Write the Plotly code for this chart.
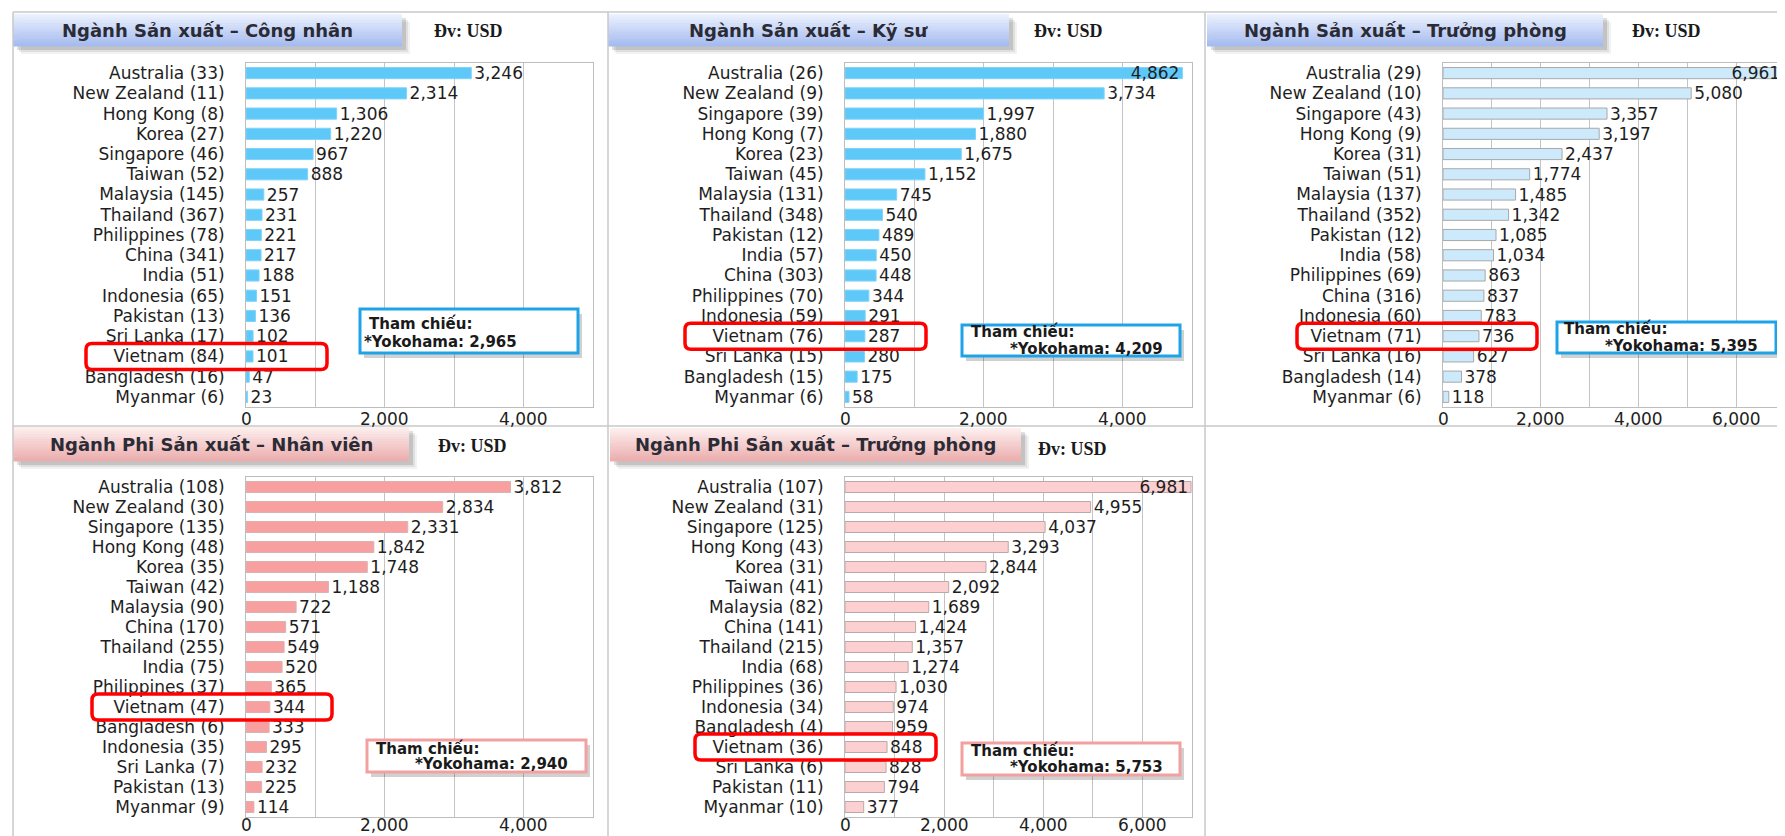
import plotly.graph_objects as go

VIEW_W, VIEW_H = 1785, 836
OFF = 8  # default page margin around the plot div
W, H = VIEW_W - OFF, VIEW_H - OFF

# ---------------- data ----------------
p1_title = "Ngành Sản xuất – Công nhân"
p1_cats = ["Australia (33)", "New Zealand (11)", "Hong Kong (8)", "Korea (27)", "Singapore (46)",
           "Taiwan (52)", "Malaysia (145)", "Thailand (367)", "Philippines (78)", "China (341)",
           "India (51)", "Indonesia (65)", "Pakistan (13)", "Sri Lanka (17)", "Vietnam (84)",
           "Bangladesh (16)", "Myanmar (6)"]
p1_vals = [3246, 2314, 1306, 1220, 967, 888, 257, 231, 221, 217, 188, 151, 136, 102, 101, 47, 23]
p1_ref = "*Yokohama: 2,965"

p2_title = "Ngành Sản xuất – Kỹ sư"
p2_cats = ["Australia (26)", "New Zealand (9)", "Singapore (39)", "Hong Kong (7)", "Korea (23)",
           "Taiwan (45)", "Malaysia (131)", "Thailand (348)", "Pakistan (12)", "India (57)",
           "China (303)", "Philippines (70)", "Indonesia (59)", "Vietnam (76)", "Sri Lanka (15)",
           "Bangladesh (15)", "Myanmar (6)"]
p2_vals = [4862, 3734, 1997, 1880, 1675, 1152, 745, 540, 489, 450, 448, 344, 291, 287, 280, 175, 58]
p2_ref = "*Yokohama: 4,209"

p3_title = "Ngành Sản xuất – Trưởng phòng"
p3_cats = ["Australia (29)", "New Zealand (10)", "Singapore (43)", "Hong Kong (9)", "Korea (31)",
           "Taiwan (51)", "Malaysia (137)", "Thailand (352)", "Pakistan (12)", "India (58)",
           "Philippines (69)", "China (316)", "Indonesia (60)", "Vietnam (71)", "Sri Lanka (16)",
           "Bangladesh (14)", "Myanmar (6)"]
p3_vals = [6961, 5080, 3357, 3197, 2437, 1774, 1485, 1342, 1085, 1034, 863, 837, 783, 736, 627, 378, 118]
p3_ref = "*Yokohama: 5,395"

p4_title = "Ngành Phi Sản xuất – Nhân viên"
p4_cats = ["Australia (108)", "New Zealand (30)", "Singapore (135)", "Hong Kong (48)", "Korea (35)",
           "Taiwan (42)", "Malaysia (90)", "China (170)", "Thailand (255)", "India (75)",
           "Philippines (37)", "Vietnam (47)", "Bangladesh (6)", "Indonesia (35)", "Sri Lanka (7)",
           "Pakistan (13)", "Myanmar (9)"]
p4_vals = [3812, 2834, 2331, 1842, 1748, 1188, 722, 571, 549, 520, 365, 344, 333, 295, 232, 225, 114]
p4_ref = "*Yokohama: 2,940"

p5_title = "Ngành Phi Sản xuất – Trưởng phòng"
p5_cats = ["Australia (107)", "New Zealand (31)", "Singapore (125)", "Hong Kong (43)", "Korea (31)",
           "Taiwan (41)", "Malaysia (82)", "China (141)", "Thailand (215)", "India (68)",
           "Philippines (36)", "Indonesia (34)", "Bangladesh (4)", "Vietnam (36)", "Sri Lanka (6)",
           "Pakistan (11)", "Myanmar (10)"]
p5_vals = [6981, 4955, 4037, 3293, 2844, 2092, 1689, 1424, 1357, 1274, 1030, 974, 959, 848, 828, 794, 377]
p5_ref = "*Yokohama: 5,753"

ticks_5k = [0, 2000, 4000]
ticks_7k = [0, 2000, 4000, 6000]

unit_label = "Đv: USD"
ref_heading = "Tham chiếu:"
highlight = "Vietnam"

# ---------------- styling / layout (page pixels) ----------------
BLUE_THEME = dict(g_top="#eaf0fd", g_bot="#a6bcf0", callout="#1ea3e8")
PINK_THEME = dict(g_top="#fdeeee", g_bot="#ecaeae", callout="#f3a0a0")

styles = [
    dict(plot=(246, 593, 63, 407), xmax=5000, ticks=ticks_5k, bar="#5ec8f8", barline="#7fd3f8",
         tbox=(13, 402, 14, 46), unit=(432, 31), callout=(360, 578, 309, 353), c_t1=(367, 324),
         c_t2=(362, 342, "left"), red=(86, 327), theme=BLUE_THEME),
    dict(plot=(845, 1192, 63, 407), xmax=5000, ticks=ticks_5k, bar="#5ec8f8", barline="#7fd3f8",
         tbox=(608, 1009, 14, 46), unit=(1032, 31), callout=(962, 1180, 325, 356), c_t1=(969, 332),
         c_t2=(1165, 349, "right"), red=(685, 926), theme=BLUE_THEME),
    dict(plot=(1443, 1785, 63, 407), xmax=7000, ticks=ticks_7k, bar="#cdeafc",
         barline="#a8a8a8", tbox=(1207, 1603, 14, 46), unit=(1630, 31), callout=(1557, 1776, 322, 353),
         c_t1=(1562, 329), c_t2=(1760, 346, "right"), red=(1297, 1537), theme=BLUE_THEME),
    dict(plot=(246, 593, 477, 817), xmax=5000, ticks=ticks_5k, bar="#f8a0a0", barline="#d9b3b3",
         tbox=(13, 409, 427, 461), unit=(436, 446), callout=(367, 586, 740, 772), c_t1=(374, 748),
         c_t2=(570, 764, "right"), red=(92, 332), theme=PINK_THEME),
    dict(plot=(845, 1192, 477, 817), xmax=7000, ticks=ticks_7k, bar="#fcd0d0", barline="#b9a9a9",
         tbox=(610, 1021, 428, 461), unit=(1036, 449), callout=(962, 1180, 743, 775), c_t1=(969, 750),
         c_t2=(1165, 767, "right"), red=(695, 936), theme=PINK_THEME),
]

panels = [
    (p1_title, p1_cats, p1_vals, p1_ref),
    (p2_title, p2_cats, p2_vals, p2_ref),
    (p3_title, p3_cats, p3_vals, p3_ref),
    (p4_title, p4_cats, p4_vals, p4_ref),
    (p5_title, p5_cats, p5_vals, p5_ref),
]

FONT = "DejaVu Sans"
TXT = "#1e1e1e"
FS = 17


def PX(x):
    return min(max((x - OFF) / W, 0), 1)


def PY(y):
    return min(max(1 - (y - OFF) / H, 0), 1)


def lerp_hex(c1, c2, t):
    a = [int(c1[i:i + 2], 16) for i in (1, 3, 5)]
    b = [int(c2[i:i + 2], 16) for i in (1, 3, 5)]
    return "#" + "".join(f"{round(a[k] + (b[k] - a[k]) * t):02x}" for k in range(3))


fig = go.Figure()
shapes = []
annotations = []
layout_axes = {}

for i, ((title, cats, vals, ref), st) in enumerate(zip(panels, styles)):
    n = i + 1
    xa = "x" if n == 1 else f"x{n}"
    ya = "y" if n == 1 else f"y{n}"
    x0, x1, y0, y1 = st["plot"]
    xmax = st["xmax"]
    positions = ["inside" if v > 0.9 * xmax else "outside" for v in vals]
    fig.add_trace(go.Bar(
        x=vals, y=cats, orientation="h", xaxis=xa, yaxis=ya,
        marker=dict(color=st["bar"], line=dict(color=st["barline"], width=1)),
        texttemplate="%{x:,}", textposition=positions, insidetextanchor="end",
        textfont=dict(family=FONT, size=FS, color=TXT),
        insidetextfont=dict(family=FONT, size=FS, color=TXT),
        outsidetextfont=dict(family=FONT, size=FS, color=TXT),
        constraintext="none", cliponaxis=False, showlegend=False, hoverinfo="x+y",
    ))
    xkey = "xaxis" if n == 1 else f"xaxis{n}"
    ykey = "yaxis" if n == 1 else f"yaxis{n}"
    layout_axes[xkey] = dict(
        domain=[PX(x0), PX(x1)], anchor=ya, range=[0, xmax],
        tickvals=st["ticks"], showticklabels=False, showgrid=True, gridcolor="#c4c4c4", gridwidth=1,
        minor=dict(dtick=1000, tick0=0, showgrid=True, gridcolor="#c4c4c4", gridwidth=1),
        showline=True, linecolor="#bdbdbd", linewidth=1, mirror=True, zeroline=False,
        ticks="", fixedrange=True,
    )
    layout_axes[ykey] = dict(
        domain=[PY(y1), PY(y0)], anchor=xa, type="category", autorange="reversed",
        tickmode="array", tickvals=cats, ticktext=cats,
        showline=True, linecolor="#bdbdbd", linewidth=1, mirror=True, showgrid=False,
        tickfont=dict(family=FONT, size=FS, color=TXT), ticks="", ticklabelstandoff=17,
        fixedrange=True,
    )
    # x tick labels, positioned on the axis scale
    for tv in st["ticks"]:
        if y1 + 22 <= VIEW_H:
            annotations.append(dict(xref=xa, yref="paper", x=tv, y=PY(y1 + 12), text=f"{tv:,}",
                                    showarrow=False, xanchor="center", yanchor="middle",
                                    font=dict(family=FONT, size=FS, color=TXT)))
        else:
            annotations.append(dict(xref=xa, yref="paper", x=tv, y=0, text=f"{tv:,}", borderpad=0,
                                    showarrow=False, xanchor="center", yanchor="bottom",
                                    font=dict(family=FONT, size=FS, color=TXT)))

    # ---- title box with shadow and vertical gradient ----
    bx0, bx1, by0, by1 = st["tbox"]
    for off, alpha in ((8, 0.05), (6, 0.08), (4, 0.12)):
        shapes.append(dict(type="rect", xref="paper", yref="paper",
                           x0=PX(bx0 + off), x1=PX(bx1 + off), y0=PY(by1 + off), y1=PY(by0 + off),
                           line=dict(width=0), fillcolor=f"rgba(0,0,0,{alpha})", layer="below"))
    nb = 14
    th = st["theme"]
    for k in range(nb):
        ya0 = by0 + (by1 - by0) * k / nb
        ya1 = by0 + (by1 - by0) * (k + 1) / nb
        shapes.append(dict(type="rect", xref="paper", yref="paper",
                           x0=PX(bx0), x1=PX(bx1), y0=PY(ya1 + 0.5), y1=PY(ya0),
                           line=dict(width=0), fillcolor=lerp_hex(th["g_top"], th["g_bot"], k / (nb - 1)),
                           layer="below"))
    annotations.append(dict(xref="paper", yref="paper", x=PX((bx0 + bx1) / 2), y=PY((by0 + by1) / 2),
                            text=f"<b>{title}</b>", showarrow=False, xanchor="center", yanchor="middle",
                            font=dict(family=FONT, size=18, color="#2b2b36")))
    ux, uy = st["unit"]
    annotations.append(dict(xref="paper", yref="paper", x=PX(ux), y=PY(uy), text=f"<b>{unit_label}</b>",
                            showarrow=False, xanchor="left", yanchor="middle",
                            font=dict(family="Liberation Serif", size=18, color="#1a1a1a")))

    # ---- callout box ----
    cx0, cx1, cy0, cy1 = st["callout"]
    shapes.append(dict(type="rect", xref="paper", yref="paper",
                       x0=PX(cx0 + 4), x1=PX(cx1 + 4), y0=PY(cy1 + 5), y1=PY(cy0 + 5),
                       line=dict(width=0), fillcolor="rgba(0,0,0,0.18)"))
    shapes.append(dict(type="rect", xref="paper", yref="paper",
                       x0=PX(cx0), x1=PX(cx1), y0=PY(cy1), y1=PY(cy0),
                       line=dict(width=3, color=th["callout"]), fillcolor="white"))
    t1x, t1y = st["c_t1"]
    annotations.append(dict(xref="paper", yref="paper", x=PX(t1x), y=PY(t1y), text=f"<b>{ref_heading}</b>",
                            showarrow=False, xanchor="left", yanchor="middle",
                            font=dict(family=FONT, size=15, color="#1a1a1a")))
    t2x, t2y, anc = st["c_t2"]
    annotations.append(dict(xref="paper", yref="paper", x=PX(t2x), y=PY(t2y), text=f"<b>{ref}</b>",
                            showarrow=False, xanchor=anc, yanchor="middle",
                            font=dict(family=FONT, size=15, color="#1a1a1a")))

    # ---- red highlight around the Vietnam row ----
    idx = [c.split(" (")[0] for c in cats].index(highlight)
    row_h = (y1 - y0) / len(cats)
    cyc = y0 + (idx + 0.5) * row_h
    rx0, rx1 = st["red"]
    ry0, ry1 = cyc - 13, cyc + 13
    r = 6
    ax, ay = r / W, r / H
    X0, X1, Y0, Y1 = PX(rx0), PX(rx1), PY(ry1), PY(ry0)
    path = (f"M{X0 + ax},{Y1} L{X1 - ax},{Y1} Q{X1},{Y1} {X1},{Y1 - ay} L{X1},{Y0 + ay} "
            f"Q{X1},{Y0} {X1 - ax},{Y0} L{X0 + ax},{Y0} Q{X0},{Y0} {X0},{Y0 + ay} "
            f"L{X0},{Y1 - ay} Q{X0},{Y1} {X0 + ax},{Y1} Z")
    shapes.append(dict(type="path", xref="paper", yref="paper", path=path,
                       line=dict(color="#ff0000", width=3.5)))

# ---- panel frame lines ----
FRAME = "#c8c8c8"
for (a0, b0, a1, b1) in [(13, 12, 1785, 12), (13, 426, 1785, 426),
                         (13, 12, 13, 836), (608, 12, 608, 836), (1205, 12, 1205, 836)]:
    shapes.append(dict(type="line", xref="paper", yref="paper", x0=PX(a0), y0=PY(b0), x1=PX(a1), y1=PY(b1),
                       line=dict(color=FRAME, width=1.5), layer="below"))

fig.update_layout(
    width=W, height=H, margin=dict(l=0, r=0, t=0, b=0),
    paper_bgcolor="white", plot_bgcolor="white",
    bargap=0.45, showlegend=False,
    shapes=shapes, annotations=annotations,
    font=dict(family=FONT, color=TXT),
    **layout_axes,
)

fig.write_html("out.html")
